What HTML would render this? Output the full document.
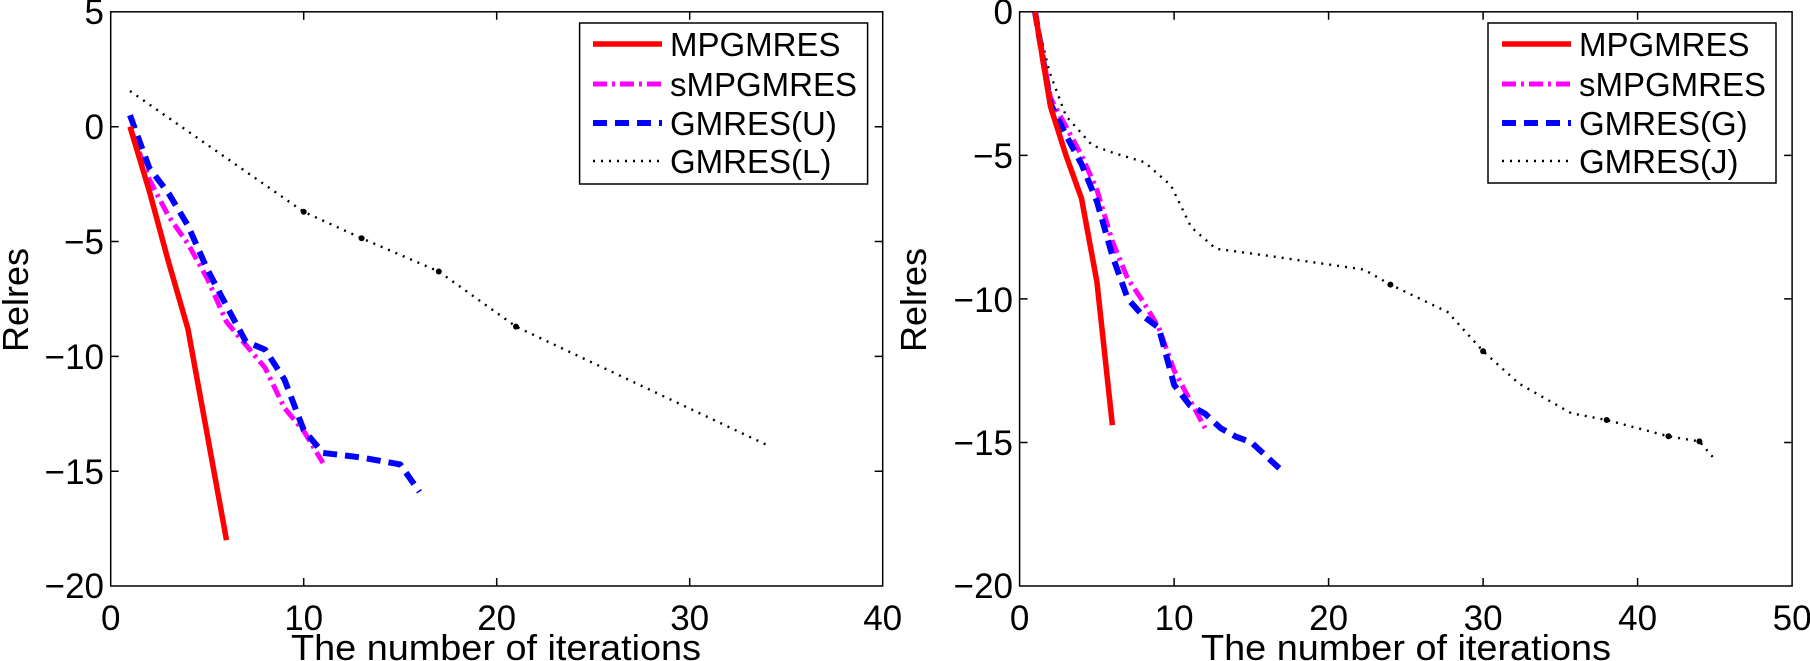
<!DOCTYPE html>
<html><head><meta charset="utf-8"><style>
html,body{margin:0;padding:0;background:#fff;}
svg{display:block;}
text{font-family:"Liberation Sans",Arial,sans-serif;fill:#000;}
</style></head><body>
<svg width="1810" height="661" viewBox="0 0 1810 661" xmlns="http://www.w3.org/2000/svg">
<g fill="none" stroke="#000" stroke-width="1.5">
<rect x="110.7" y="11.8" width="772" height="574.2"/>
<path d="M303.7,586v-8M496.7,586v-8M689.7,586v-8M303.7,11.8v8M496.7,11.8v8M689.7,11.8v8
M110.7,471.2h8M110.7,356.4h8M110.7,241.5h8M110.7,126.7h8M882.7,471.2h-8M882.7,356.4h-8M882.7,241.5h-8M882.7,126.7h-8"/>
</g>
<g font-size="35" text-anchor="end">
<text x="104" y="24">5</text>
<text x="104" y="139">0</text>
<text x="104" y="254">−5</text>
<text x="104" y="369">−10</text>
<text x="104" y="484">−15</text>
<text x="104" y="598">−20</text>
</g>
<g font-size="35" text-anchor="middle">
<text x="110.7" y="630">0</text>
<text x="303.7" y="630">10</text>
<text x="496.7" y="630">20</text>
<text x="689.7" y="630">30</text>
<text x="882.7" y="630">40</text>
</g>
<text x="496" y="660" font-size="36" text-anchor="middle" textLength="410" lengthAdjust="spacingAndGlyphs">The number of iterations</text>
<text transform="translate(28,300) rotate(-90)" font-size="36" text-anchor="middle">Relres</text>

<g fill="none" stroke-linejoin="round">
<polyline stroke="#000" stroke-width="2.4" stroke-dasharray="2,6" points="130,91 303.7,211.8 361.6,238.2 438.8,271.5 516,326.6 766.9,445"/>
<polyline stroke="#f0f" stroke-width="5" stroke-dasharray="14,5,3,5" points="130,126.7 149.3,179.5 168.6,216.3 187.9,243.8 207.2,278.3 226.5,321.9 245.8,344.9 265.1,367.8 284.4,408 303.7,430.9 323,463"/>
<polyline stroke="#00f" stroke-width="6" stroke-dasharray="14,8" points="130,115.2 149.3,168 168.6,193.3 187.9,225.5 207.2,269.1 226.5,305.9 245.8,341.5 265.1,349.6 284.4,379.4 303.7,430 323,452.9 342.3,455.2 361.6,457.5 380.9,461 400.2,464.4 419.5,491.9"/>
<polyline stroke="#f00" stroke-width="5.5" points="130,126.7 149.3,191 168.6,262.2 187.9,328.8 207.2,434.4 226.5,540.1"/>
</g>
<g fill="#000"><circle cx="303.7" cy="211.8" r="3"/><circle cx="361.6" cy="238.2" r="3"/><circle cx="438.8" cy="271.5" r="3"/><circle cx="516" cy="326.6" r="3"/></g>

<rect x="579.6" y="23" width="288" height="161" fill="#fff" stroke="#000" stroke-width="1.5"/>
<g fill="none">
<line x1="593" y1="44" x2="662" y2="44" stroke="#f00" stroke-width="5.5"/>
<line x1="593" y1="84" x2="662" y2="84" stroke="#f0f" stroke-width="5" stroke-dasharray="14,5,3,5"/>
<line x1="593" y1="123" x2="662" y2="123" stroke="#00f" stroke-width="6" stroke-dasharray="14,8"/>
<line x1="593" y1="161" x2="662" y2="161" stroke="#000" stroke-width="2.4" stroke-dasharray="2,6"/>
</g>
<g font-size="33">
<text x="670" y="56">MPGMRES</text>
<text x="670" y="96">sMPGMRES</text>
<text x="670" y="135">GMRES(U)</text>
<text x="670" y="173">GMRES(L)</text>
</g>

<g fill="none" stroke="#000" stroke-width="1.5">
<rect x="1019.6" y="11.8" width="772.5" height="574.2"/>
<path d="M1174.1,586v-8M1328.6,586v-8M1483.1,586v-8M1637.6,586v-8M1174.1,11.8v8M1328.6,11.8v8M1483.1,11.8v8M1637.6,11.8v8
M1019.6,155.4h8M1019.6,298.9h8M1019.6,442.5h8M1792.1,155.4h-8M1792.1,298.9h-8M1792.1,442.5h-8"/>
</g>
<g font-size="35" text-anchor="end">
<text x="1013" y="24">0</text>
<text x="1013" y="168">−5</text>
<text x="1013" y="312">−10</text>
<text x="1013" y="455">−15</text>
<text x="1013" y="598">−20</text>
</g>
<g font-size="35" text-anchor="middle">
<text x="1019.6" y="630">0</text>
<text x="1174.1" y="630">10</text>
<text x="1328.6" y="630">20</text>
<text x="1483.1" y="630">30</text>
<text x="1637.6" y="630">40</text>
<text x="1792.1" y="630">50</text>
</g>
<text x="1406" y="660" font-size="36" text-anchor="middle" textLength="410" lengthAdjust="spacingAndGlyphs">The number of iterations</text>
<text transform="translate(926,300) rotate(-90)" font-size="36" text-anchor="middle">Relres</text>

<g fill="none" stroke-linejoin="round">
<polyline stroke="#000" stroke-width="2.4" stroke-dasharray="2,6" points="1035,11.8 1049.3,71.5 1066,116 1092.2,145.3 1112.3,152.5 1144.7,162.3 1171,185.5 1191.1,227.1 1215.8,248.7 1268.3,255.8 1364.1,269.6 1390.4,284.6 1447.6,312 1483.1,351.2 1519,383.6 1571.2,413.2 1606.7,420 1668.5,436.3 1699.4,441.4 1714.9,459.5"/>
<polyline stroke="#f0f" stroke-width="5" stroke-dasharray="14,5,3,5" points="1035,11.8 1050.5,98 1066,126.6 1081.5,155.4 1096.9,189.8 1112.4,241.5 1127.8,278.8 1143.3,301.8 1158.7,327.6 1174.2,370.7 1189.6,399.4 1205.1,428.1"/>
<polyline stroke="#00f" stroke-width="6" stroke-dasharray="14,8" points="1035,11.8 1050.5,103.7 1066,135.3 1081.5,164 1096.9,201.3 1112.4,255.9 1127.8,298.9 1143.3,316.2 1158.7,327.6 1174.2,385 1189.6,405.1 1205.1,413.7 1220.5,428.1 1236,436.7 1251.4,442.4 1266.9,456.8 1282.3,471.2"/>
<polyline stroke="#f00" stroke-width="5.5" points="1035,11.8 1050.5,106.5 1066,155.4 1081.5,198.4 1096.9,281.7 1112.4,425.2"/>
</g>
<g fill="#000"><circle cx="1390.4" cy="284.6" r="3"/><circle cx="1483.1" cy="351.2" r="3"/><circle cx="1606.7" cy="420" r="3"/><circle cx="1668.5" cy="436.3" r="3"/><circle cx="1699.4" cy="441.4" r="3"/></g>

<rect x="1488" y="23" width="288" height="160" fill="#fff" stroke="#000" stroke-width="1.5"/>
<g fill="none">
<line x1="1502" y1="44" x2="1571" y2="44" stroke="#f00" stroke-width="5.5"/>
<line x1="1502" y1="84" x2="1571" y2="84" stroke="#f0f" stroke-width="5" stroke-dasharray="14,5,3,5"/>
<line x1="1502" y1="123" x2="1571" y2="123" stroke="#00f" stroke-width="6" stroke-dasharray="14,8"/>
<line x1="1502" y1="161" x2="1571" y2="161" stroke="#000" stroke-width="2.4" stroke-dasharray="2,6"/>
</g>
<g font-size="33">
<text x="1579" y="56">MPGMRES</text>
<text x="1579" y="96">sMPGMRES</text>
<text x="1579" y="135">GMRES(G)</text>
<text x="1579" y="173">GMRES(J)</text>
</g>
</svg>
</body></html>
